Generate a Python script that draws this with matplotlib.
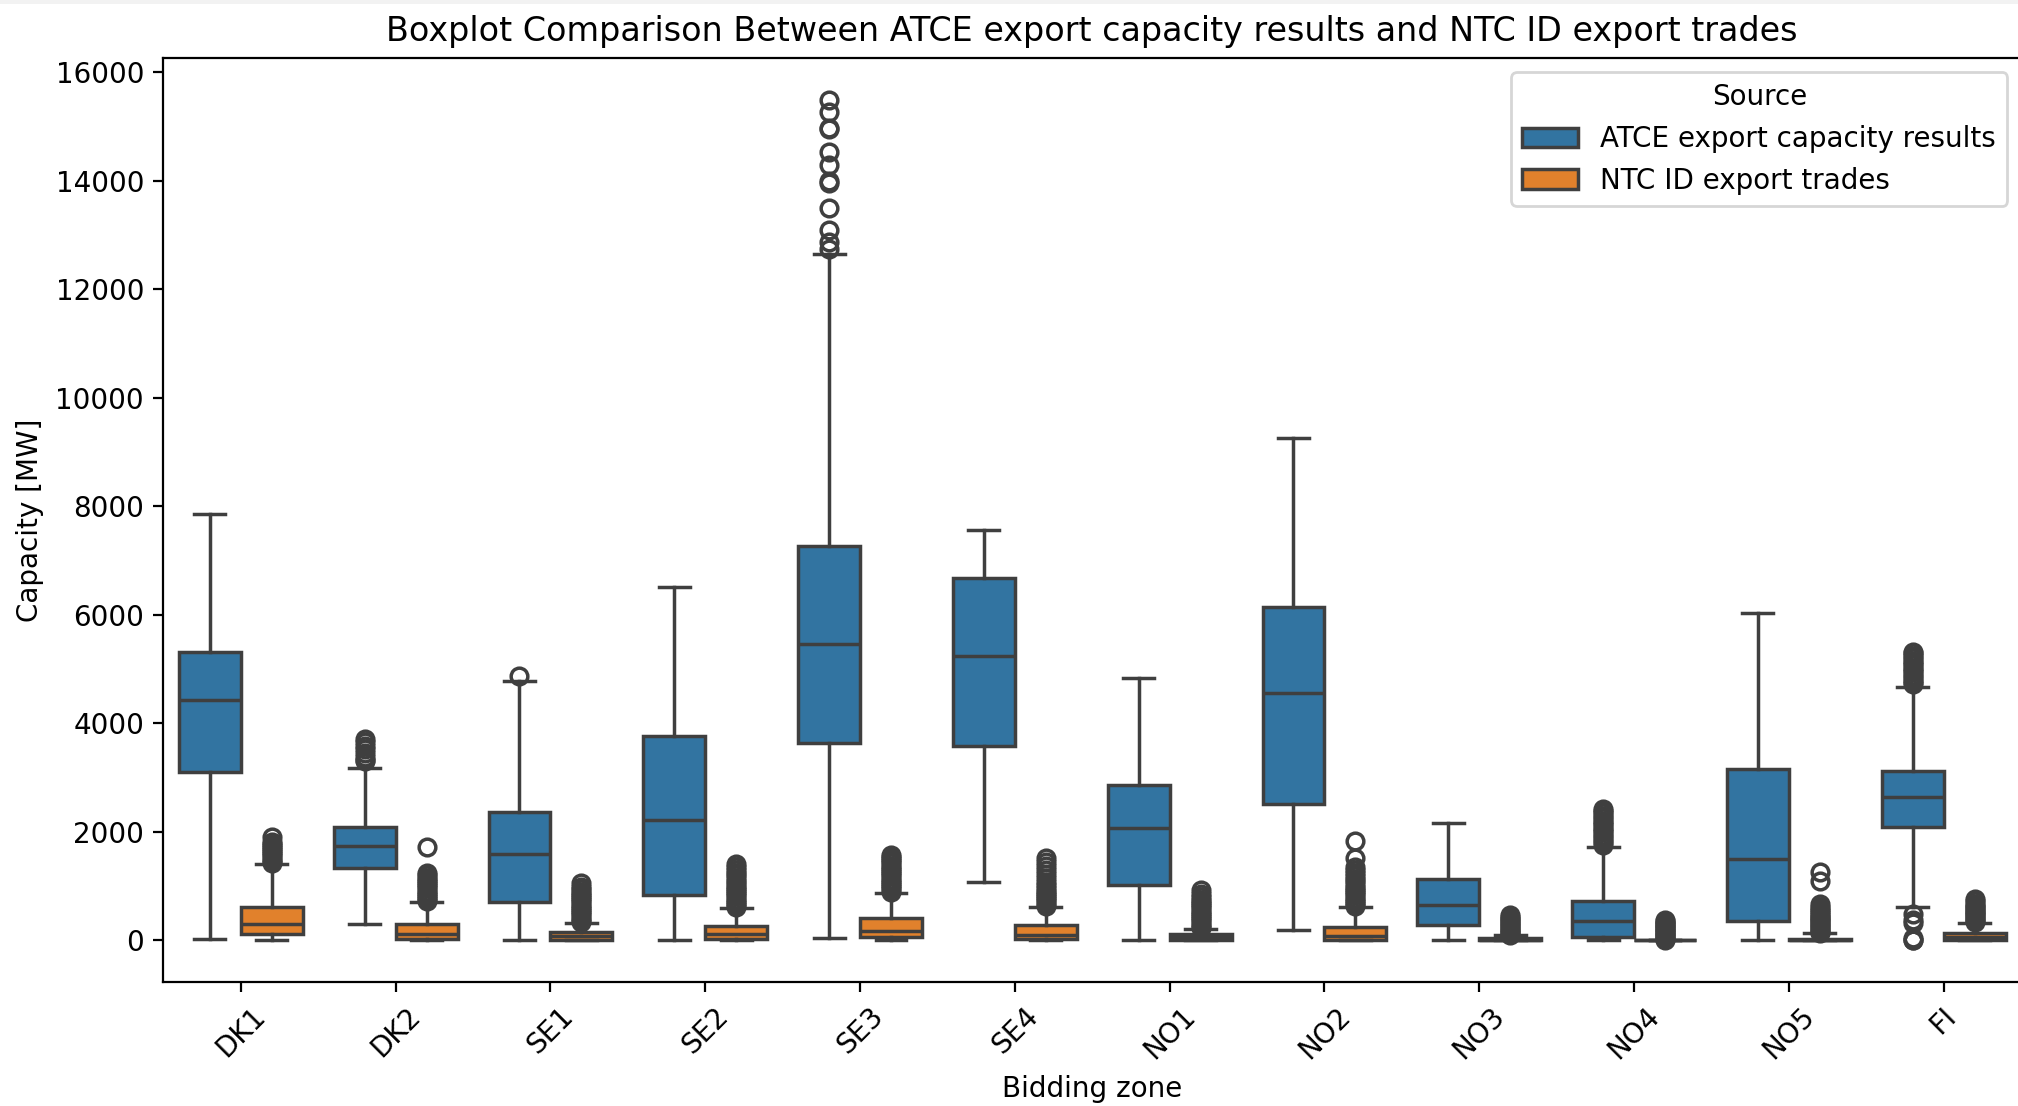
import matplotlib
matplotlib.use("Agg")
import matplotlib.pyplot as plt
import matplotlib.patches as mpatches

zones = ["DK1", "DK2", "SE1", "SE2", "SE3", "SE4", "NO1", "NO2", "NO3", "NO4", "NO5", "FI"]
sources = ["ATCE export capacity results", "NTC ID export trades"]

# ATCE export capacity results
atce_q1 = [3100, 1330, 700, 845, 3645, 3580, 1030, 2510, 280, 60, 360, 2095]
atce_med = [4430, 1735, 1585, 2212, 5455, 5240, 2068, 4565, 660, 358, 1508, 2645]
atce_q3 = [5310, 2100, 2365, 3760, 7263, 6672, 2870, 6150, 1135, 727, 3160, 3125]
atce_lo = [30, 295, 0, 0, 37, 1069, 0, 184, 0, 0, 0, 614]
atce_hi = [7852, 3170, 4790, 6522, 12650, 7560, 4830, 9258, 2170, 1725, 6040, 4680]
atce_fliers = [
    [],
    [3300, 3330, 3390, 3460, 3520, 3580, 3650, 3720],
    [4880],
    [],
    [12740, 12870, 13100, 13500, 13960, 13990, 14300, 14540, 14950, 14980, 15270, 15490],
    [],
    [],
    [],
    [],
    [1760, 1810, 1850, 1900, 1940, 1990, 2030, 2080, 2120, 2170, 2210, 2260, 2300, 2350, 2390, 2420],
    [],
    [0, 15, 40, 330, 370, 480,
     4720, 4760, 4800, 4850, 4890, 4940, 4980, 5030, 5070, 5120, 5160, 5210, 5250, 5290, 5310],
]

# NTC ID export trades
ntc_q1 = [110, 20, 8, 25, 65, 25, 0, 0, 0, 0, 0, 5]
ntc_med = [300, 115, 85, 115, 180, 105, 70, 90, 15, 0, 8, 62]
ntc_q3 = [622, 295, 160, 258, 410, 292, 122, 248, 40, 0, 35, 135]
ntc_lo = [0, 0, 0, 0, 0, 0, 0, 0, 0, 0, 0, 0]
ntc_hi = [1400, 700, 330, 596, 883, 625, 218, 614, 95, 0, 135, 322]
ntc_fliers = [
    [1430, 1470, 1510, 1550, 1590, 1630, 1660, 1700, 1740, 1780, 1820, 1900],
    [720, 760, 800, 840, 880, 920, 960, 1000, 1040, 1080, 1120, 1160, 1200, 1250, 1730],
    [345, 380, 420, 460, 500, 540, 580, 620, 660, 700, 740, 780, 820, 860, 900, 940, 990, 1050],
    [610, 650, 690, 730, 770, 810, 850, 890, 930, 970, 1010, 1050, 1100, 1150, 1200, 1250, 1300, 1350, 1400],
    [900, 940, 980, 1020, 1060, 1100, 1140, 1180, 1220, 1260, 1300, 1340, 1380, 1420, 1460, 1500, 1540, 1580],
    [640, 680, 720, 760, 800, 840, 880, 920, 970, 1020, 1080, 1150, 1230, 1300, 1380, 1450, 1520],
    [230, 270, 310, 350, 390, 430, 470, 510, 550, 590, 630, 670, 710, 750, 800, 860, 930],
    [630, 670, 710, 750, 790, 830, 870, 910, 950, 990, 1040, 1090, 1140, 1190, 1240, 1300, 1350, 1520, 1840],
    [100, 130, 160, 190, 220, 250, 280, 310, 340, 370, 400, 430, 460],
    [5, 30, 55, 80, 105, 130, 155, 180, 205, 230, 255, 280, 305, 330, 355, 375],
    [140, 170, 200, 230, 260, 290, 320, 350, 380, 410, 440, 470, 500, 540, 580, 620, 670, 1100, 1260],
    [335, 370, 400, 430, 460, 490, 520, 550, 580, 610, 640, 680, 720, 765],
]

colors = ["#3274a1", "#e1812c"]
linecolor = "#3f3f3f"
lw = 1.25


def make_stats(q1, med, q3, lo, hi, fliers):
    stats = []
    for i in range(len(q1)):
        stats.append({"q1": q1[i], "med": med[i], "q3": q3[i],
                      "whislo": lo[i], "whishi": hi[i], "fliers": fliers[i]})
    return stats


fig = plt.figure(figsize=(10.09, 5.53), dpi=200)
ax = fig.add_axes([0.081, 0.1117, 0.9205, 0.8358])

groups = [
    make_stats(atce_q1, atce_med, atce_q3, atce_lo, atce_hi, atce_fliers),
    make_stats(ntc_q1, ntc_med, ntc_q3, ntc_lo, ntc_hi, ntc_fliers),
]
for k, stats in enumerate(groups):
    pos = [i - 0.2 + 0.4 * k for i in range(len(zones))]
    ax.bxp(stats, positions=pos, widths=0.4, capwidths=0.2, patch_artist=True,
           manage_ticks=False,
           boxprops=dict(facecolor=colors[k], edgecolor=linecolor, linewidth=lw),
           medianprops=dict(color=linecolor, linewidth=lw),
           whiskerprops=dict(color=linecolor, linewidth=lw),
           capprops=dict(color=linecolor, linewidth=lw),
           flierprops=dict(marker="o", markersize=6, markerfacecolor="none",
                           markeredgecolor=linecolor, markeredgewidth=lw))

ax.set_xlim(-0.5, len(zones) - 0.5)
ax.set_xticks(range(len(zones)))
ax.set_xticklabels(zones, rotation=45)
ax.set_xlabel("Bidding zone")
ax.set_ylabel("Capacity [MW]")
ax.set_title("Boxplot Comparison Between ATCE export capacity results and NTC ID export trades")

handles = [mpatches.Patch(facecolor=colors[k], edgecolor=linecolor, linewidth=lw, label=sources[k])
           for k in range(2)]
ax.legend(handles=handles, title="Source", loc="upper right")

# light strip at the top of the screenshot
fig.patches.append(mpatches.Rectangle((0, 1 - 4 / 1106), 1, 4 / 1106, transform=fig.transFigure,
                                      facecolor="#f2f2f2", edgecolor="none"))

fig.savefig("out.png", dpi=200)
